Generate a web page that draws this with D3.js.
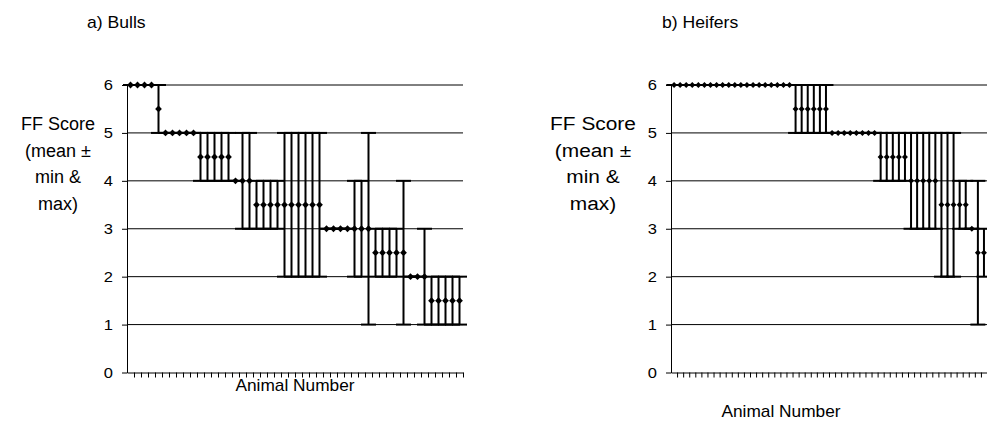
<!DOCTYPE html>
<html>
<head>
<meta charset="utf-8">
<script src="https://cdn.jsdelivr.net/npm/d3@7"></script>
<style>
  body { margin: 0; background: #fff; }
  svg text { font-family: "Liberation Sans", Arial, sans-serif; fill: #000; }
</style>
</head>
<body>
<div id="chart"></div>
<script>
// FF score per animal: mean, min and max.
const bullsMean = [6, 6, 6, 6, 5.5, 5, 5, 5, 5, 5, 4.5, 4.5, 4.5, 4.5, 4.5, 4, 4, 4,
    3.5, 3.5, 3.5, 3.5, 3.5, 3.5, 3.5, 3.5, 3.5, 3.5, 3, 3, 3, 3, 3, 3, 3,
    2.5, 2.5, 2.5, 2.5, 2.5, 2, 2, 2, 1.5, 1.5, 1.5, 1.5, 1.5];
const bullsMin = [6, 6, 6, 6, 5, 5, 5, 5, 5, 5, 4, 4, 4, 4, 4, 4, 3, 3,
    3, 3, 3, 3, 2, 2, 2, 2, 2, 2, 3, 3, 3, 3, 2, 2, 1,
    2, 2, 2, 2, 1, 2, 2, 1, 1, 1, 1, 1, 1];
const bullsMax = [6, 6, 6, 6, 6, 5, 5, 5, 5, 5, 5, 5, 5, 5, 5, 4, 5, 5,
    4, 4, 4, 4, 5, 5, 5, 5, 5, 5, 3, 3, 3, 3, 4, 4, 5,
    3, 3, 3, 3, 4, 2, 2, 3, 2, 2, 2, 2, 2];

const heifersMean = [6, 6, 6, 6, 6, 6, 6, 6, 6, 6, 6, 6, 6, 6, 6, 6, 6, 6, 6, 6,
    5.5, 5.5, 5.5, 5.5, 5.5, 5.5, 5, 5, 5, 5, 5, 5, 5, 5,
    4.5, 4.5, 4.5, 4.5, 4.5, 4, 4, 4, 4, 4, 3.5, 3.5, 3.5, 3.5, 3.5, 3, 2.5, 2.5];
const heifersMin = [6, 6, 6, 6, 6, 6, 6, 6, 6, 6, 6, 6, 6, 6, 6, 6, 6, 6, 6, 6,
    5, 5, 5, 5, 5, 5, 5, 5, 5, 5, 5, 5, 5, 5,
    4, 4, 4, 4, 4, 3, 3, 3, 3, 3, 2, 2, 2, 3, 3, 3, 1, 2];
const heifersMax = [6, 6, 6, 6, 6, 6, 6, 6, 6, 6, 6, 6, 6, 6, 6, 6, 6, 6, 6, 6,
    6, 6, 6, 6, 6, 6, 5, 5, 5, 5, 5, 5, 5, 5,
    5, 5, 5, 5, 5, 5, 5, 5, 5, 5, 5, 5, 5, 4, 4, 3, 4, 3];

const yTicks = [0, 1, 2, 3, 4, 5, 6];
const yLabelLines = ["FF Score", "(mean \u00b1", "min &", "max)"];

const width = 987;
const height = 422;

const svg = d3.select("#chart")
    .append("svg")
    .attr("width", width)
    .attr("height", height);

const y = d3.scaleLinear().domain([0, 6]).range([372.5, 85]);

const panels = [
    {title: "a) Bulls", mean: bullsMean, min: bullsMin, max: bullsMax,
        x0: 127, x1: 463, titleX: 87, labelX: 58, labelStretch: 1.0,
        xLabelX: 295, xLabelY: 391, r: 3.4},
    {title: "b) Heifers", mean: heifersMean, min: heifersMin, max: heifersMax,
        x0: 671, x1: 987, titleX: 662, labelX: 593, labelStretch: 1.16,
        xLabelX: 781, xLabelY: 417, r: 3}
];

// Text helper, the text in the picture is a little wide.
const addText = (sel, x, yy, str, size, anchor, stretch) => sel.append("text")
    .attr("transform", `translate(${x},${yy}) scale(${stretch},1)`)
    .attr("text-anchor", anchor)
    .attr("font-size", size + "px")
    .text(str);

const renderPanel = (p) => {
    const n = p.mean.length;
    const x = d3.scaleLinear().domain([0, n]).range([p.x0, p.x1]);
    const g = svg.append("g");

    // Gridlines.
    g.selectAll("line.grid")
        .data(yTicks.slice(1))
        .enter()
        .append("line")
        .attr("class", "grid")
        .attr("x1", p.x0).attr("x2", p.x1)
        .attr("y1", d => y(d)).attr("y2", d => y(d))
        .attr("stroke", "#000")
        .attr("stroke-width", 1);

    // Y axis.
    const ya = g.append("g")
        .attr("transform", `translate(${p.x0},0)`)
        .call(d3.axisLeft(y).tickValues(yTicks).tickSize(5).tickSizeOuter(0).tickFormat(d3.format("d")));
    ya.selectAll("text")
        .attr("font-size", "15px")
        .attr("x", null)
        .attr("transform", "translate(-14,0) scale(1.1,1)");

    // X axis.
    g.append("g")
        .attr("transform", `translate(0,${y(0)})`)
        .call(d3.axisBottom(x).tickValues(d3.range(1, n + 1)).tickSize(5).tickSizeOuter(0).tickFormat(""));

    g.selectAll(".domain, .tick line").attr("stroke", "#000");

    // Error bars with caps.
    const bars = g.selectAll("g.bar")
        .data(p.mean.map((m, i) => ({i, m, lo: p.min[i], hi: p.max[i]})))
        .enter()
        .append("g")
        .attr("class", "bar")
        .attr("stroke", "#000")
        .attr("stroke-width", 2);

    bars.append("line")
        .attr("x1", d => x(d.i + 0.5)).attr("x2", d => x(d.i + 0.5))
        .attr("y1", d => y(d.lo)).attr("y2", d => y(d.hi));
    bars.append("line")
        .attr("x1", d => x(d.i + 0.5) - 7.5).attr("x2", d => x(d.i + 0.5) + 7.5)
        .attr("y1", d => y(d.lo)).attr("y2", d => y(d.lo));
    bars.append("line")
        .attr("x1", d => x(d.i + 0.5) - 7.5).attr("x2", d => x(d.i + 0.5) + 7.5)
        .attr("y1", d => y(d.hi)).attr("y2", d => y(d.hi));

    // Mean - diamonds.
    g.selectAll("path.mean")
        .data(p.mean)
        .enter()
        .append("path")
        .attr("class", "mean")
        .attr("d", (d, i) => {
            const cx = x(i + 0.5), cy = y(d), r = p.r;
            return `M${cx},${cy - r}L${cx + r},${cy}L${cx},${cy + r}L${cx - r},${cy}Z`;
        })
        .attr("fill", "#000");

    // Labels.
    addText(svg, p.titleX, 28, p.title, 16, "start", 1.1);
    yLabelLines.forEach((t, k) => addText(svg, p.labelX, 130 + k * 26.5, t, 18, "middle", p.labelStretch));
    addText(svg, p.xLabelX, p.xLabelY, "Animal Number", 16, "middle", 1.08);
};

panels.forEach(renderPanel);
</script>
</body>
</html>
